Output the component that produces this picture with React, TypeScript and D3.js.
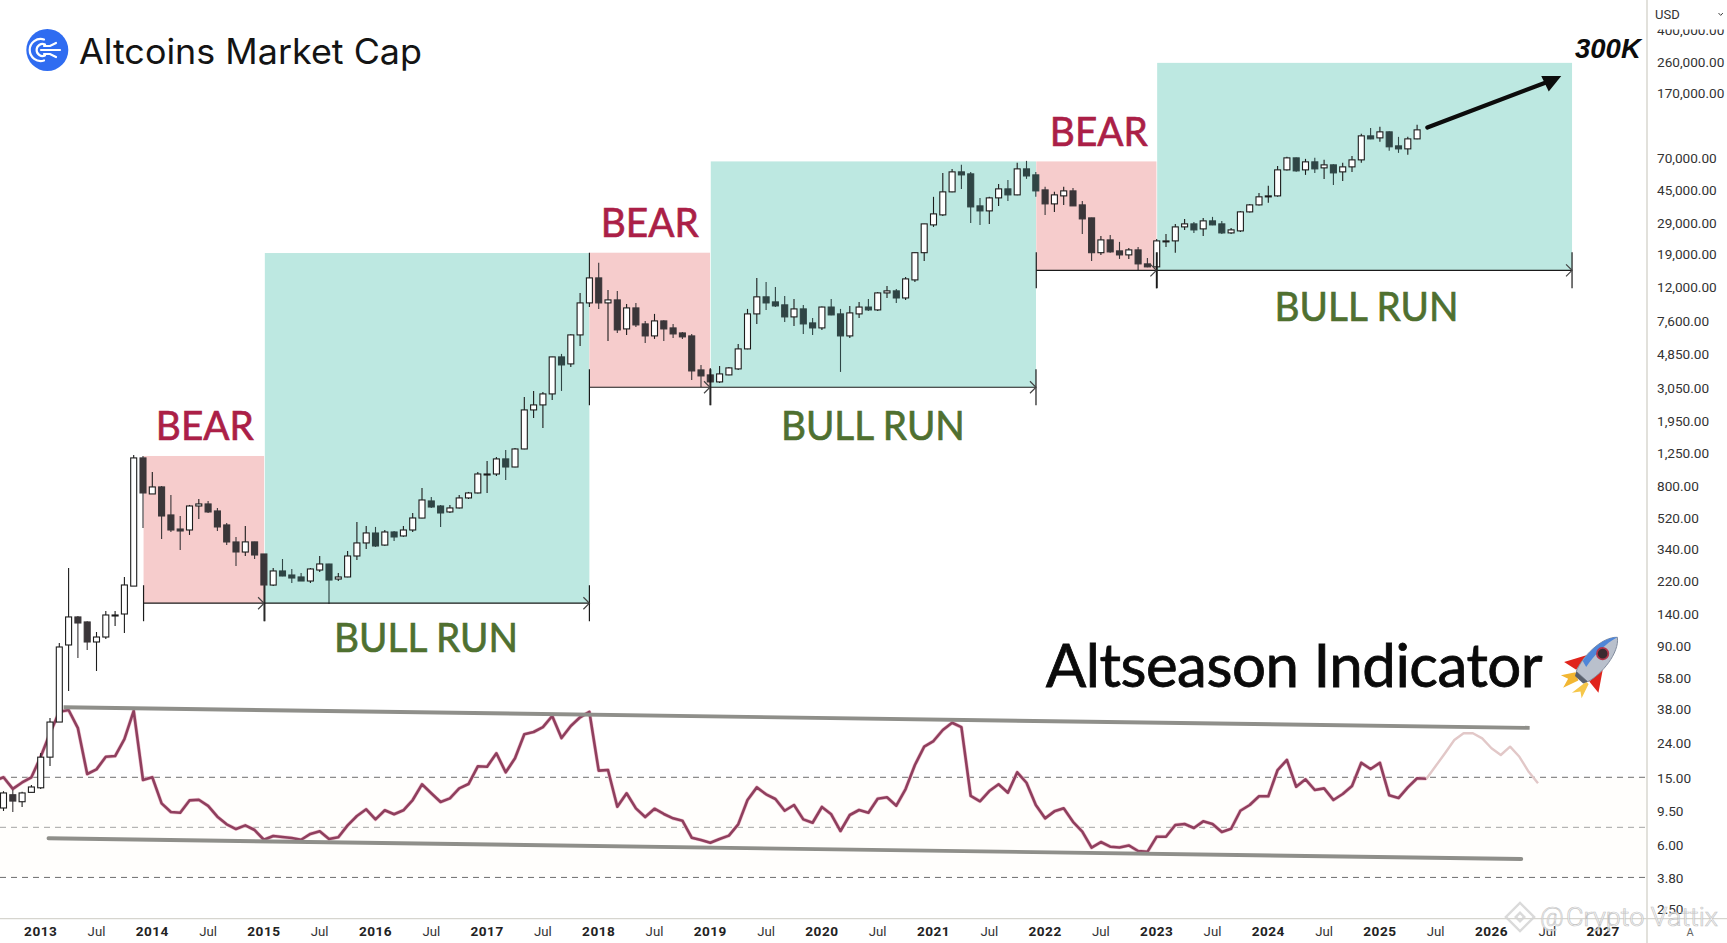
import React from 'react';
import * as d3 from 'd3';

const WIDTH = 1727;
const HEIGHT = 943;
const AXIS_X = 1647;
const AXIS_Y = 918.6;

// month index 0 = Jan 2013, candles start at Sep 2012
const FIRST_CANDLE = -4;
const opens = [
  10.1, 12.1, 11, 12.5, 13.3, 20.2, 32.6, 93.2, 136.6, 127.6,
  97.1, 103.9, 138.5, 142.2, 208, 1194, 730.6, 804, 548.7, 453,
  447, 620, 637.5, 579.4, 478.8, 379.7, 331, 380, 322.3, 211,
  255.7, 242, 235.6, 223, 259, 281, 229, 235.6, 313.6, 374.6,
  429, 364, 435, 412, 447, 526, 664, 620, 571.6, 603.6,
  692, 740.5, 946, 959, 1178, 1055, 1349, 2297, 2459, 2857,
  4732, 4301, 6386, 9880, 13893, 9880, 10293, 6931, 9228, 7421,
  6300, 7730, 7026, 6560, 6300, 3963, 3702, 3365, 3702, 4018,
  5277, 8505, 10730, 10017, 9620, 8164, 9104, 7521, 7026, 9338,
  8505, 6300, 8505, 9338, 8981, 11320, 11640, 10570, 13520, 19590,
  28620, 32800, 44890, 58960, 57370, 37080, 34640, 41360, 46760, 43086,
  61420, 56590, 46128, 38110, 42500, 45500, 37590, 31490, 19590, 23327,
  20080, 19010, 20354, 16820, 16150, 22700, 23010, 27850, 29016, 27100,
  30230, 29016, 25660, 26370, 34170, 37590, 42000, 42500, 60590, 71360,
  60590, 67580, 62260, 64870, 58960, 63120, 69442, 96320, 93730, 101730,
  84040, 80680, 92460,
];
const highs = [
  12.7, 12.9, 12.6, 13.8, 21.4, 34.4, 95.8, 266, 138.5, 129,
  111.3, 148.2, 148, 235.6, 1243, 1226, 986, 814.7, 720.7, 541,
  628.9, 682, 664, 603.6, 492, 406.5, 472.2, 381, 322.3, 266,
  301, 262.7, 248.8, 266, 313.6, 282, 249, 335.8, 498.7, 472,
  466, 447, 441, 472, 563.8, 792.8, 701, 629, 629, 720.7,
  750.8, 986, 1146, 1210, 1331, 1368, 2742, 2976, 2936, 4750,
  4929, 6450, 11320, 19590, 17090, 11797, 11640, 9747, 9880, 7730,
  8505, 7800, 7421, 6653, 6474, 4242, 4073, 4184, 4130, 5634,
  9104, 13893, 13156, 12290, 10870, 10434, 9615, 8054, 9400, 10434,
  9104, 9484, 10017, 10434, 11450, 12460, 11960, 14084, 19700, 29100,
  41960, 58160, 61420, 64870, 58960, 41360, 41960, 50060, 52867, 66660,
  68500, 58960, 48060, 44890, 48060, 47400, 39700, 31600, 24630, 24970,
  22700, 20920, 21200, 18250, 23650, 25317, 29016, 31060, 29820, 31490,
  31920, 30230, 27470, 34600, 38000, 44270, 48720, 63950, 72340, 71800,
  70400, 71360, 69442, 65500, 66660, 73330, 99000, 107400, 108900, 102500,
  95030, 95030, 111900,
];
const lows = [
  9.7, 9.57, 10.24, 12.5, 13.09, 17.9, 32.6, 49.8, 78.1, 87.1,
  65.4, 101.2, 120.8, 109.8, 208, 459.5, 730, 395.6, 435, 340,
  417.7, 519.5, 563.8, 441, 364.4, 273.7, 313.6, 301, 211, 208,
  238, 217, 223, 217, 252.2, 163, 223, 235, 297, 345,
  354.7, 360, 385, 408, 435, 525, 603.6, 466, 564, 600,
  682, 735, 740, 933.8, 884, 1050, 1345, 2059, 1797, 2632,
  2976, 4130, 5497, 9338, 9104, 5885, 6560, 6386, 7122, 5727,
  6048, 5885, 6132, 6048, 3458, 3143, 3340, 3319, 3680, 3960,
  5250, 7421, 8981, 9338, 7626, 7220, 6474, 6386, 6837, 8350,
  3856, 6132, 8054, 8860, 8860, 10570, 9880, 10293, 13156, 17520,
  27850, 32300, 44700, 46760, 29410, 28620, 29016, 37080, 39700, 42800,
  53590, 41960, 32800, 34170, 37590, 37000, 25317, 17520, 19010, 19590,
  18000, 18000, 15495, 16050, 16050, 21200, 19590, 26735, 25660, 24630,
  28500, 25317, 25317, 26000, 33900, 37300, 38650, 42000, 60000, 59000,
  56590, 58160, 53590, 49380, 52150, 58960, 66660, 92000, 88760, 78510,
  76400, 74340, 92000,
];
const closes = [
  12.4, 11.1, 12.4, 13.45, 20.2, 32.6, 90.7, 136.6, 125.8, 97.1,
  103.9, 140.3, 140.3, 211.2, 1194, 740.5, 803.7, 541, 447, 441,
  620, 637.5, 571.6, 465.9, 379.7, 331.3, 380, 317.9, 211.2, 255.7,
  238.8, 232.3, 223, 262.7, 281.3, 226, 235.6, 313.6, 374.6, 429.3,
  359.5, 435, 406.5, 447, 526.6, 673, 611.6, 563.8, 603.6, 691.9,
  740.5, 959, 959, 1178, 1055, 1349, 2297, 2459, 2857, 4732,
  4242, 6386, 9880, 13893, 9880, 10293, 6837, 9228, 7320, 6300,
  7730, 6931, 6474, 6218, 3909, 3652, 3365, 3753, 4073, 5277,
  8505, 10730, 9880, 9484, 8164, 9104, 7421, 7026, 9338, 8390,
  6300, 8621, 9338, 8981, 11320, 11640, 10570, 13706, 19590, 29016,
  33250, 44890, 58960, 56590, 36580, 34640, 41360, 46760, 43086, 61420,
  55780, 45500, 38110, 43086, 45500, 37080, 31060, 19590, 23327, 19810,
  19010, 20354, 16820, 16150, 23010, 23010, 27850, 29016, 26735, 30230,
  28620, 25660, 26735, 34170, 37590, 41960, 42500, 60590, 71360, 59770,
  67580, 61420, 64870, 58160, 63120, 69442, 96320, 92460, 101730, 83000,
  80680, 92460, 104540,
];

// altseason indicator, monthly, starts at Aug 2012
const FIRST_INDICATOR = -5;
const indicator = [
  14.6, 15.35, 13.1, 14.3, 15.35, 20.3, 28, 37.5, 38.4, 30,
  16.05, 17.1, 20.3, 20.5, 25.8, 38, 14.8, 15.35, 10.75, 9.56,
  9.47, 11.2, 11.3, 10.4, 8.97, 8.08, 7.58, 7.97, 7.48, 6.55,
  6.9, 6.8, 6.71, 6.55, 7.09, 7.35, 6.62, 6.78, 7.97, 9.06,
  9.92, 8.65, 9.79, 9.27, 9.79, 11.26, 13.95, 12.34, 10.96, 11.52,
  13.2, 14, 17.83, 17.73, 21.3, 16.43, 19.9, 27.6, 28.46, 30.4,
  35.4, 26.2, 30.9, 34.8, 37.4, 16.8, 16.95, 10.28, 12.34, 10.05,
  8.93, 10, 9.31, 8.77, 8.49, 6.74, 6.53, 6.29, 6.62, 6.93,
  8.08, 11.26, 13.38, 12.17, 11.42, 9.73, 10.52, 8.65, 8.26, 10.24,
  9.27, 7.38, 9.18, 9.83, 9.47, 11.47, 11.68, 10.42, 13.08, 18.15,
  23.3, 25.17, 29.25, 32.3, 30.4, 11.9, 11.07, 12.73, 13.95, 12.44,
  16.43, 14.25, 10.52, 8.77, 9.65, 10.05, 8.37, 7.31, 5.88, 6.35,
  5.96, 5.9, 6.06, 5.62, 5.55, 6.83, 6.83, 8.01, 8.12, 7.69,
  8.42, 8.12, 7.28, 7.61, 9.73, 10.52, 11.85, 11.85, 16.95, 19.43,
  13.5, 14.93, 12.91, 13.2, 11.26, 12.22, 13.63, 18.7, 17.18, 18.7,
  12, 11.57, 13.38, 15.14, 15.06,
];
const FIRST_PROJECTED = 149;
const projected = [15.06, 17.9, 21.3, 25.52, 28, 28, 26.1, 22.8, 20.8, 23.3, 20.3, 16.55, 14.15];

// zones
const zoneKinds = ['bear', 'bull', 'bear', 'bull', 'bear', 'bull'];
const zoneStarts = [11.06, 24.1, 59.0, 72.05, 107.05, 120.05];
const zoneEnds = [24.02, 59.0, 71.97, 107.02, 119.97, 164.66];
const zoneTops = [1226, 19500, 19590, 68000, 68000, 260600];
const zoneBottoms = [164.7, 164.7, 3130, 3130, 15400, 15400];
const labelShiftX = [1, -1, 0, -0.5, 2.5, 2];
const labelShiftY = [-15.5, 49, -15.5, 53, -15.5, 51];

const upperTrendMonths = [2.46, 160.1];
const upperTrendValues = [39.86, 30.1];
const lowerTrendMonths = [0.84, 159.2];
const lowerTrendValues = [6.68, 5.04];
const dashLevels = [15.35, 7.76, 3.92];
const arrowMonths = [149.1, 163.5];
const arrowValues = [108000, 218000];

const priceTicks = [400000, 260000, 170000, 70000, 45000, 29000, 19000, 12000, 7600, 4850, 3050, 1950, 1250, 800, 520, 340, 220, 140, 90, 58, 38, 24, 15, 9.5, 6, 3.8, 2.5];
const yearTicks = [2013, 2014, 2015, 2016, 2017, 2018, 2019, 2020, 2021, 2022, 2023, 2024, 2025, 2026, 2027];

const xScale = d3.scaleLinear().domain([0, 168]).range([40.7, 1603.1]);
const yScale = d3.scaleLog().domain([614000, 2.236]).range([0, AXIS_Y]);

const formatPrice = d3.format(',.2f');
const sansUi = 'Roboto, Inter, sans-serif';
const futura = 'Lato, "Noto Sans", sans-serif';

function Candles() {
  return (
    <g>
      {closes.map((c, i) => {
        const m = FIRST_CANDLE + i;
        const x = xScale(m);
        const o = opens[i];
        const up = c >= o;
        const top = yScale(Math.max(o, c));
        const bottom = yScale(Math.min(o, c));
        const inBull = zoneKinds.some((k, z) => k === 'bull' && m >= zoneStarts[z] && m <= zoneEnds[z]);
        const dark = inBull ? '#2f4545' : '#3a3639';
        return (
          <g key={i}>
            <line x1={x} x2={x} y1={yScale(highs[i])} y2={yScale(lows[i])} stroke={up ? '#1c1c1c' : dark} strokeWidth={1.1} />
            <rect
              x={x - 3}
              y={top}
              width={6}
              height={Math.max(bottom - top, 1)}
              fill={up ? '#fff' : dark}
              stroke={up ? '#1c1c1c' : dark}
              strokeWidth={1.1}
            />
          </g>
        );
      })}
    </g>
  );
}

function Rocket() {
  return (
    <g transform="translate(1596,661) rotate(42) scale(1.1)">
      <path d="M-7,20 L-15,31 L-8,29 L-6,38 L0,24 Z" fill="#f2b632" />
      <path d="M6,20 L3,36 L8,30 L13,34 L9,20 Z" fill="#f6c74a" />
      <path d="M-10,2 L-21,20 L-8,18 Z" fill="#e0241c" />
      <path d="M10,2 L21,20 L8,18 Z" fill="#e0241c" />
      <path d="M0,-29 C11,-20 12,6 7,19 L-7,19 C-12,6 -11,-20 0,-29 Z" fill="#b9c0cc" stroke="#7c8698" strokeWidth={0.8} />
      <path d="M0,-29 C-8,-22 -11,-6 -9,8 L-3,10 C-5,-4 -4,-18 0,-29 Z" fill="#4f86d8" />
      <circle cx={0} cy={-9} r={5.2} fill="#3a2a30" stroke="#b3354a" strokeWidth={1.6} />
      <path d="M-7,19 L7,19 L5,23 L-5,23 Z" fill="#59606c" />
    </g>
  );
}

export default function App() {
  const line = d3
    .line<number>()
    .x((_, i) => xScale(FIRST_INDICATOR + i))
    .y((d) => yScale(d));
  const projectedLine = d3
    .line<number>()
    .x((_, i) => xScale(FIRST_PROJECTED + i))
    .y((d) => yScale(d));

  return (
    <svg
      width={WIDTH}
      height={HEIGHT}
      style={{ position: 'fixed', left: 0, top: 0, background: '#fff' }}
      fontFamily={sansUi}
    >
      <defs>
        <clipPath id="plot">
          <rect x={0} y={0} width={AXIS_X} height={AXIS_Y} />
        </clipPath>
      </defs>

      {/* zones */}
      {zoneKinds.map((k, i) => (
        <rect
          key={i}
          x={xScale(zoneStarts[i])}
          y={yScale(zoneTops[i])}
          width={xScale(zoneEnds[i]) - xScale(zoneStarts[i])}
          height={yScale(zoneBottoms[i]) - yScale(zoneTops[i])}
          fill={k === 'bear' ? '#f6cccc' : '#bde8e1'}
        />
      ))}

      {/* indicator band */}
      <rect x={0} y={yScale(dashLevels[0])} width={AXIS_X} height={yScale(dashLevels[2]) - yScale(dashLevels[0])} fill="#fffefc" />
      {dashLevels.map((v, i) => (
        <line
          key={i}
          x1={0}
          x2={AXIS_X}
          y1={yScale(v)}
          y2={yScale(v)}
          stroke={i === 1 ? '#9a9a9a' : '#5c5c5c'}
          strokeWidth={0.9}
          strokeDasharray="6 5"
        />
      ))}

      <g clipPath="url(#plot)">
        <path d={line(indicator) ?? ''} fill="none" stroke="#f0c4d0" strokeWidth={3.8} strokeLinejoin="round" />
        <path d={line(indicator) ?? ''} fill="none" stroke="#8f3f5e" strokeWidth={2.6} strokeLinejoin="round" />
        <path d={projectedLine(projected) ?? ''} fill="none" stroke="#e2c8c8" strokeWidth={2.4} strokeLinejoin="round" />
      </g>

      <line
        x1={xScale(upperTrendMonths[0])}
        x2={xScale(upperTrendMonths[1])}
        y1={yScale(upperTrendValues[0])}
        y2={yScale(upperTrendValues[1])}
        stroke="#8f8f8a"
        strokeWidth={3.9}
      />
      <line
        x1={xScale(lowerTrendMonths[0])}
        x2={xScale(lowerTrendMonths[1])}
        y1={yScale(lowerTrendValues[0])}
        y2={yScale(lowerTrendValues[1])}
        stroke="#8f8f8a"
        strokeWidth={3.9}
        strokeLinecap="round"
      />

      <Candles />

      {/* brackets under each zone */}
      {zoneKinds.map((_, i) => {
        const x1 = xScale(zoneStarts[i]);
        const x2 = xScale(zoneEnds[i]);
        const y = yScale(zoneBottoms[i]);
        return (
          <g key={i} stroke="#1a1a1a" strokeWidth={1.2} fill="none">
            <line x1={x1} x2={x2} y1={y} y2={y} />
            <line x1={x1} x2={x1} y1={y - 18} y2={y + 18} />
            <line x1={x2} x2={x2} y1={y - 18} y2={y + 18} />
            <path d={`M${x2 - 6},${y - 6} L${x2},${y} L${x2 - 6},${y + 6}`} stroke="#444" />
          </g>
        );
      })}

      {/* zone labels */}
      {zoneKinds.map((k, i) => {
        const cx = (xScale(zoneStarts[i]) + xScale(zoneEnds[i])) / 2 + labelShiftX[i];
        const bear = k === 'bear';
        const y = (bear ? yScale(zoneTops[i]) : yScale(zoneBottoms[i])) + labelShiftY[i];
        return (
          <text
            key={i}
            x={cx}
            y={y}
            textAnchor="middle"
            fontFamily={futura}
            fontSize={41}
            fill={bear ? '#ab1f47' : '#4f7030'}
            stroke={bear ? '#ab1f47' : '#4f7030'}
            strokeWidth={0.7}
            textLength={bear ? 98 : 184}
            lengthAdjust="spacingAndGlyphs"
          >
            {bear ? 'BEAR' : 'BULL RUN'}
          </text>
        );
      })}

      {/* target arrow */}
      <g>
        <line
          x1={xScale(arrowMonths[0])}
          y1={yScale(arrowValues[0])}
          x2={xScale(arrowMonths[1]) - 14}
          y2={yScale(arrowValues[1]) + 6}
          stroke="#0c0c0c"
          strokeWidth={4.2}
          strokeLinecap="round"
        />
        <path
          d={`M${xScale(arrowMonths[1])},${yScale(arrowValues[1])} l-20,0 l7.5,15.5 Z`}
          fill="#0c0c0c"
        />
      </g>
      <text x={1575} y={57.5} fontFamily='"Liberation Sans", Arial, sans-serif' fontWeight={700} fontStyle="italic" fontSize={27.5} fill="#0c0c0c">
        300K
      </text>

      {/* title */}
      <circle cx={47.3} cy={50} r={21} fill="#2f6cf1" />
      <g stroke="#fff" strokeWidth={2.2} fill="none" strokeLinecap="round">
        <path d="M44,39.5 A11,11 0 1,0 44,60.5" />
        <path d="M45,44.5 A6,6 0 1,0 45,55.5" />
        <line x1={41} y1={50} x2={60} y2={50} />
        <path d="M44,46 L50,46 L56,43" />
        <path d="M44,54 L50,54 L56,57" />
      </g>
      <text x={79} y={64} fontFamily="Inter, Roboto, sans-serif" fontSize={35} fill="#141414" textLength={343} lengthAdjust="spacingAndGlyphs">
        Altcoins Market Cap
      </text>

      {/* big caption */}
      <text
        x={1045.7}
        y={686.7}
        fontFamily={futura}
        fontSize={60}
        letterSpacing={2}
        fill="#0a0a0a"
        stroke="#0a0a0a"
        strokeWidth={0.8}
        textLength={499}
        lengthAdjust="spacing"
      >
        Altseason Indicator
      </text>
      <Rocket />

      {/* price axis */}
      <line x1={AXIS_X} x2={AXIS_X} y1={0} y2={HEIGHT} stroke="#cfcdc4" strokeWidth={1.2} />
      <line x1={0} x2={WIDTH} y1={AXIS_Y} y2={AXIS_Y} stroke="#d6d5cf" strokeWidth={1.2} />
      {priceTicks.map((t) => (
        <text key={t} x={1657} y={yScale(t) - 1.3} dominantBaseline="central" fontSize={13.6} fill="#333">
          {formatPrice(t)}
        </text>
      ))}
      <rect x={AXIS_X + 1} y={0} width={WIDTH - AXIS_X} height={29.5} fill="#fff" />
      <text x={1655} y={18.5} fontSize={13} fill="#333">USD</text>
      <path d="M1718.5,13 l2.2,2.4 l2.2,-2.4" fill="none" stroke="#444" strokeWidth={1} />

      {/* time axis */}
      {yearTicks.map((yr) => {
        const m = (yr - 2013) * 12;
        return (
          <g key={yr}>
            <text x={xScale(m)} y={936} textAnchor="middle" fontSize={13.6} fontWeight={700} letterSpacing={0.5} fill="#222">
              {yr}
            </text>
            {yr < 2027 && (
              <text x={xScale(m + 6)} y={936} textAnchor="middle" fontSize={13.2} fill="#333">
                Jul
              </text>
            )}
          </g>
        );
      })}
      <text x={1690} y={936} textAnchor="middle" fontSize={11} fill="#666">A</text>

      {/* watermark */}
      <g opacity={0.85}>
        <g transform="translate(1520,917) rotate(45)" fill="none" stroke="#d4d4d4" strokeWidth={2.4}>
          <rect x={-10} y={-10} width={20} height={20} />
          <rect x={-3} y={-3} width={6} height={6} />
        </g>
        <text x={1540} y={926} fontFamily={sansUi} fontSize={26} fontWeight={300} fill="#fff" stroke="#c2c2c2" strokeWidth={0.7}>
          @
        </text>
        <text x={1566} y={926} fontFamily={sansUi} fontSize={25} fontWeight={300} fill="#fff" stroke="#bcbcbc" strokeWidth={0.7} textLength={152} lengthAdjust="spacingAndGlyphs">
          Crypto Vattix
        </text>
      </g>
    </svg>
  );
}
